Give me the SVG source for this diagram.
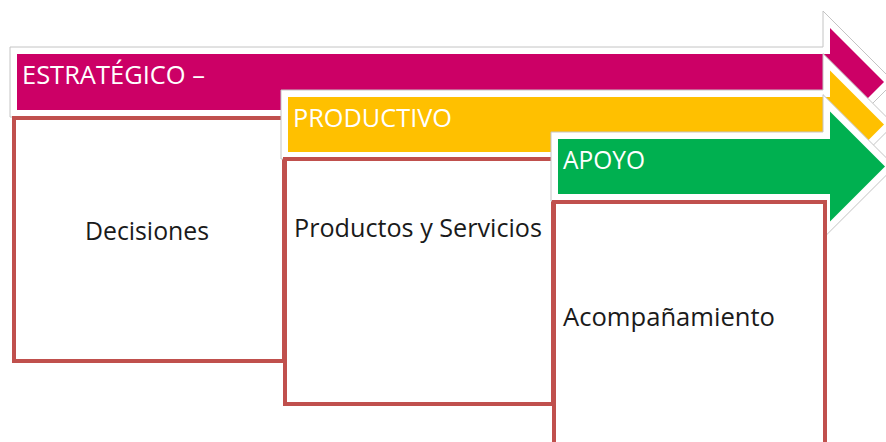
<svg xmlns="http://www.w3.org/2000/svg" width="886" height="442" viewBox="0 0 886 442">
<style>
.back{fill:#ffffff;stroke:#c4c4c4;stroke-width:1}
.box{fill:#ffffff;stroke:#C0504D;stroke-width:4}
.hdr{font-family:"Open Sans","Liberation Sans",sans-serif;font-size:25px;fill:#ffffff}
.lbl{font-family:"Open Sans","Liberation Sans",sans-serif;font-size:25px;fill:#1a1a1a}
</style>
<rect width="886" height="442" fill="#ffffff"/>
<g id="estrategico">
<polygon class="back" points="10,47 823,47 823,11 894,82 823,153 823,117 10,117"/>
<polygon fill="#CC0066" points="17,54 830,54 830,28 884,82 830,136 830,110 17,110"/>
<text class="hdr" x="22" y="84" textLength="183" lengthAdjust="spacingAndGlyphs">ESTRATÉGICO –</text>
</g>
<g id="decisiones">
<rect class="box" x="14" y="118" width="270" height="243"/>
<text class="lbl" x="147" y="240" text-anchor="middle" textLength="124" lengthAdjust="spacingAndGlyphs">Decisiones</text>
</g>
<g id="productivo">
<polygon class="back" points="281,90 823,90 823,53.6 894,124.5 823,195.4 823,159 281,159"/>
<polygon fill="#FFC000" points="288,97 830,97 830,70.5 884,124.5 830,178.5 830,152 288,152"/>
<text class="hdr" x="293" y="127" textLength="159" lengthAdjust="spacingAndGlyphs">PRODUCTIVO</text>
</g>
<g id="productos">
<rect class="box" x="285" y="159" width="268" height="245"/>
<text class="lbl" x="294" y="237" textLength="248" lengthAdjust="spacingAndGlyphs">Productos y Servicios</text>
</g>
<g id="apoyo">
<polygon class="back" points="551,132 823,132 823,94.6 895,166.5 823,238.4 823,201 551,201"/>
<polygon fill="#00B050" points="558,139 830,139 830,111.5 885,166.5 830,221.5 830,194 558,194"/>
<text class="hdr" x="563" y="169" textLength="82" lengthAdjust="spacingAndGlyphs">APOYO</text>
</g>
<g id="acompanamiento">
<rect class="box" x="554" y="202" width="271" height="262"/>
<text class="lbl" x="563" y="326" textLength="212" lengthAdjust="spacingAndGlyphs">Acompañamiento</text>
</g>
<g id="connectors"></g>
</svg>
